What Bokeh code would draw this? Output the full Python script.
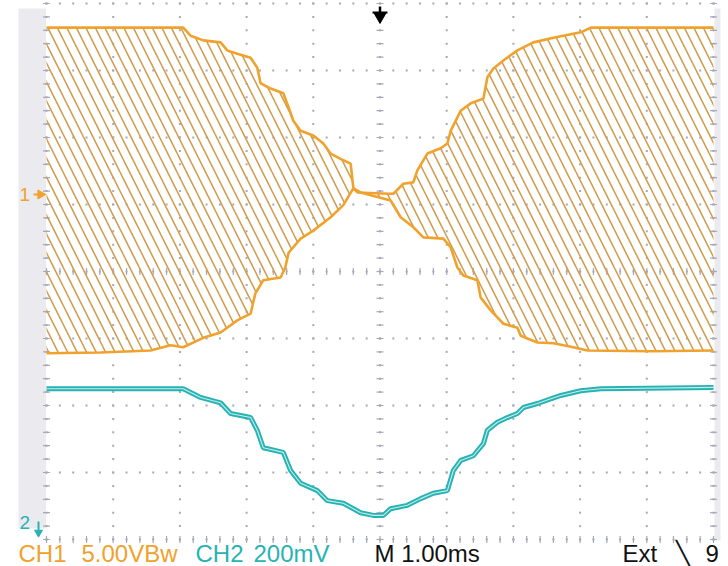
import numpy as np
from bokeh.plotting import figure
from bokeh.models import Range1d
from bokeh.core.properties import value
from bokeh.embed import file_html
from bokeh.resources import INLINE

# ---------------- data (time in ms, vertical in screen divisions) ----------------
ch1_top_t = [-5.0, -2.95, -2.84, -2.65, -2.39, -2.29, -2.14, -1.94, -1.84, -1.79, -1.64, -1.45,
             -1.37, -1.30, -1.19, -1.00, -0.85, -0.74, -0.55, -0.44, -0.40, -0.34, 0.14, 0.20,
             0.35, 0.50, 0.56, 0.71, 0.91, 1.01, 1.06, 1.21, 1.36, 1.55, 1.61, 1.70, 1.85, 2.06,
             2.30, 2.60, 3.01, 3.16, 5.0]
ch1_top_v = [3.64, 3.64, 3.52, 3.45, 3.42, 3.30, 3.25, 3.19, 3.04, 2.81, 2.73, 2.66,
             2.45, 2.25, 2.10, 2.03, 1.91, 1.76, 1.66, 1.61, 1.25, 1.18, 1.16, 1.16,
             1.31, 1.33, 1.51, 1.76, 1.84, 1.91, 2.10, 2.40, 2.51, 2.58, 2.90, 3.03, 3.15, 3.30,
             3.42, 3.49, 3.57, 3.64, 3.64]
ch1_bot_t = [-5.0, -4.19, -3.44, -3.14, -2.95, -2.65, -2.39, -2.14, -1.94, -1.87, -1.75, -1.49,
             -1.42, -1.37, -1.19, -1.00, -0.74, -0.55, -0.40, -0.29, 0.16, 0.31, 0.50, 0.65,
             0.95, 1.06, 1.16, 1.25, 1.46, 1.51, 1.66, 1.85, 2.06, 2.11, 2.36, 2.60, 2.90, 3.11,
             4.06, 5.0]
ch1_bot_v = [-1.22, -1.21, -1.18, -1.10, -1.13, -0.99, -0.91, -0.73, -0.63, -0.33, -0.13, -0.09,
             0.06, 0.28, 0.49, 0.61, 0.81, 0.99, 1.24, 1.18, 1.06, 0.81, 0.66, 0.51,
             0.49, 0.36, 0.06, -0.06, -0.13, -0.39, -0.58, -0.78, -0.84, -0.96, -1.06, -1.07, -1.13, -1.18,
             -1.19, -1.18]
ch2_t = [-5.0, -2.95, -2.89, -2.69, -2.39, -2.24, -1.94, -1.84, -1.75, -1.45, -1.34, -1.19,
         -0.94, -0.79, -0.55, -0.29, -0.10, 0.05, 0.16, 0.41, 0.61, 0.80, 1.01, 1.10, 1.21,
         1.40, 1.55, 1.61, 1.76, 1.91, 2.06, 2.15, 2.36, 2.56, 2.71, 3.01, 3.31, 5.0]
ch2_v = [-1.75, -1.75, -1.78, -1.88, -1.96, -2.12, -2.18, -2.37, -2.63, -2.70, -2.97, -3.16,
         -3.27, -3.42, -3.46, -3.60, -3.64, -3.64, -3.54, -3.49, -3.39, -3.31, -3.27, -2.97, -2.82,
         -2.75, -2.57, -2.37, -2.25, -2.18, -2.12, -2.03, -1.97, -1.90, -1.85, -1.78, -1.75, -1.73]

status_texts = ["CH1", "5.00VBw", "CH2", "200mV", "M 1.00ms", "Ext", "\u2572", "9"]

# ---------------- layout helpers ----------------
W, H = 728, 566
X0_PX, PX_PER_MS = 379.5, 66.7
Y0_PX, PX_PER_DIV = 271.0, 67.0


def tx(px):
    return (px - X0_PX) / PX_PER_MS


def ty(py):
    return (Y0_PX - py) / PX_PER_DIV


ORANGE = "#f0a22c"
HATCH = "#cf9f52"
TEAL = "#27b3b3"
GRID = "#a7a9b8"

p = figure(width=W, height=H, x_range=Range1d(tx(0), tx(W)), y_range=Range1d(ty(H), ty(0)),
           output_backend="svg", toolbar_location=None, min_border=0,
           x_axis_location=None, y_axis_location=None)
p.grid.visible = False
p.outline_line_color = None
p.background_fill_color = "white"
p.border_fill_color = "white"

# side bands
p.quad(left=[tx(18), tx(714)], right=[tx(45.5), tx(720)], top=[ty(8), ty(8)],
       bottom=[ty(528), ty(540)], fill_color="#ebebef", line_color=None)

# graticule dots
major_t = np.arange(-5, 5.01, 1.0)
major_d = np.arange(-4, 4.01, 1.0)
sub_t = np.round(np.arange(-5, 5.001, 0.2), 3)
sub_d = np.round(np.arange(-4, 4.001, 0.2), 3)
vx = np.repeat(major_t, len(sub_d))
vy = np.tile(sub_d, len(major_t))
hx = np.tile(sub_t, len(major_d))
hy = np.repeat(major_d, len(sub_t))
p.scatter(np.concatenate([vx, hx]), np.concatenate([vy, hy]), marker="square", size=2,
          color=GRID, line_color=None)

# tick marks on centre lines and edges
hdash_x = np.concatenate([np.zeros(len(sub_d)), np.full(len(sub_d), -5.0), np.full(len(sub_d), 5.0)])
hdash_y = np.concatenate([sub_d, sub_d, sub_d])
p.scatter(hdash_x, hdash_y, marker="dash", size=7, line_color=GRID, line_width=1.2)
vdash_x = np.concatenate([sub_t, sub_t])
vdash_y = np.concatenate([np.zeros(len(sub_t)), np.full(len(sub_t), -4.0)])
p.scatter(vdash_x, vdash_y, marker="dash", size=7, angle=np.pi / 2, line_color=GRID, line_width=1.2)

# CH1 hatched envelope
env_x = list(ch1_top_t) + list(ch1_bot_t[::-1])
env_y = list(ch1_top_v) + list(ch1_bot_v[::-1])
p.patch(env_x, env_y, fill_alpha=0, line_alpha=0, hatch_pattern="left_diagonal_line",
        hatch_color=HATCH, hatch_weight=1.6, hatch_scale=19)
p.line(ch1_top_t, ch1_top_v, line_color=ORANGE, line_width=2.6)
p.line(ch1_bot_t, ch1_bot_v, line_color=ORANGE, line_width=2.6)

# CH2 double trace
p.line(ch2_t, ch2_v, line_color=TEAL, line_width=5)
p.line(ch2_t, ch2_v, line_color="white", line_width=1.1, line_alpha=0.75)

# trigger position marker
p.segment(x0=[0], y0=[ty(6)], x1=[0], y1=[ty(15)], line_color="black", line_width=2.5)
p.segment(x0=[tx(372)], y0=[ty(12)], x1=[tx(387)], y1=[ty(12)], line_color="black", line_width=2)
p.scatter([0], [ty(16)], marker="inverted_triangle", size=12, color="black")

# channel markers
p.text([tx(19)], [ty(194)], text=["1"], text_color=ORANGE, text_font=value("Liberation Sans"),
       text_font_size="19px", text_baseline="middle")
p.scatter([tx(40)], [ty(194)], marker="triangle", angle=-np.pi / 2, size=9, color=ORANGE)
p.segment(x0=[tx(33)], y0=[ty(194)], x1=[tx(39)], y1=[ty(194)], line_color=ORANGE, line_width=2)
p.text([tx(19)], [ty(522)], text=["2"], text_color=TEAL, text_font=value("Liberation Sans"),
       text_font_size="19px", text_baseline="middle")
p.segment(x0=[tx(38)], y0=[ty(521)], x1=[tx(38)], y1=[ty(530)], line_color=TEAL, line_width=2)
p.scatter([tx(38)], [ty(532)], marker="inverted_triangle", size=8, color=TEAL)

# status line
status_px = [18, 81, 195, 253, 374, 622, 675, 705]
status_col = [ORANGE, ORANGE, TEAL, TEAL, "#111111", "#111111", "#111111", "#111111"]
p.text([tx(v) for v in status_px], [ty(553)] * len(status_px), text=status_texts,
       text_color=status_col, text_font=value("Liberation Sans"), text_font_size="24px",
       text_baseline="middle")

open("out.html", "w").write(file_html(p, INLINE))
